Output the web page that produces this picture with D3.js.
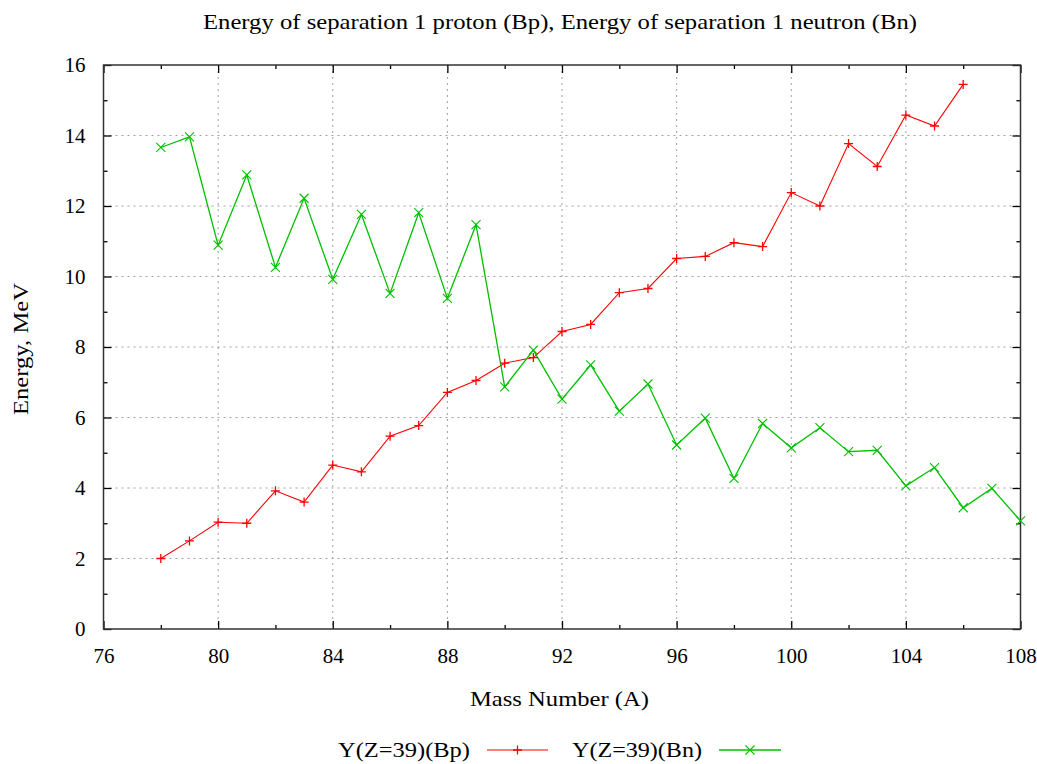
<!DOCTYPE html>
<html><head><meta charset="utf-8">
<script src="https://cdn.jsdelivr.net/npm/d3@7"></script>
<style>body{margin:0;background:#fff}svg{display:block}text{font-family:"Liberation Serif","DejaVu Serif",serif;fill:#000}</style>
</head><body>
<svg id="c" width="1037" height="764"></svg>
<script>
const massBp = [78,79,80,81,82,83,84,85,86,87,88,89,90,91,92,93,94,95,96,97,98,99,100,101,102,103,104,105,106];
const energyBp = [2.0,2.5,3.03,3.0,3.92,3.6,4.65,4.46,5.47,5.77,6.71,7.05,7.54,7.7,8.44,8.64,9.54,9.66,10.51,10.57,10.96,10.85,12.38,12.0,13.77,13.12,14.58,14.27,15.45];
const massBn = [78,79,80,81,82,83,84,85,86,87,88,89,90,91,92,93,94,95,96,97,98,99,100,101,102,103,104,105,106,107,108];
const energyBn = [13.66,13.96,10.89,12.88,10.26,12.22,9.92,11.76,9.52,11.81,9.38,11.47,6.87,7.91,6.52,7.49,6.18,6.95,5.22,5.98,4.27,5.83,5.14,5.71,5.03,5.07,4.06,4.58,3.44,3.99,3.07];
const xTicks = [76,80,84,88,92,96,100,104,108];
const xMinor = [78,82,86,90,94,98,102,106];
const yTicks = [0,2,4,6,8,10,12,14,16];
const yMinor = [1,3,5,7,9,11,13,15];
const titleText = "Energy of separation 1 proton (Bp), Energy of separation 1 neutron (Bn)";
const xLabel = "Mass Number (A)";
const yLabel = "Energy, MeV";
const seriesNames = ["Y(Z=39)(Bp)","Y(Z=39)(Bn)"];

const FONT = "'Liberation Serif','DejaVu Serif',serif";
const svg = d3.select("#c");
const L=103.5, R=1020.5, T=65, B=629;
const x = d3.scaleLinear().domain([76,108]).range([L,R]);
const y = d3.scaleLinear().domain([0,16]).range([B,T]);

// grid
const g = svg.append("g");
g.selectAll(".gx").data(xTicks.slice(1,-1)).join("line")
 .attr("x1",d=>x(d)).attr("x2",d=>x(d)).attr("y1",T).attr("y2",B)
 .attr("stroke","#a0a0a0").attr("stroke-width",1).attr("stroke-dasharray","2,4");
g.selectAll(".gy").data(yTicks.slice(1,-1)).join("line")
 .attr("y1",d=>y(d)).attr("y2",d=>y(d)).attr("x1",L).attr("x2",R)
 .attr("stroke","#a0a0a0").attr("stroke-width",1).attr("stroke-dasharray","2,4");

// axes with inward ticks
const ax = svg.append("g");
function addAxis(axis, tr){ return ax.append("g").attr("transform",tr).call(axis).attr("font-family",FONT).attr("font-size",21); }
addAxis(d3.axisBottom(x).tickValues(xTicks).tickSize(-8).tickPadding(19).tickFormat(d3.format("d")), `translate(0,${B})`);
addAxis(d3.axisBottom(x).tickValues(xMinor).tickSize(-4).tickFormat(""), `translate(0,${B})`);
addAxis(d3.axisTop(x).tickValues(xTicks).tickSize(-8).tickFormat(""), `translate(0,${T})`);
addAxis(d3.axisTop(x).tickValues(xMinor).tickSize(-4).tickFormat(""), `translate(0,${T})`);
addAxis(d3.axisLeft(y).tickValues(yTicks).tickSize(-8).tickPadding(18).tickFormat(d3.format("d")), `translate(${L},0)`);
addAxis(d3.axisLeft(y).tickValues(yMinor).tickSize(-4).tickFormat(""), `translate(${L},0)`);
addAxis(d3.axisRight(y).tickValues(yTicks).tickSize(-8).tickFormat(""), `translate(${R},0)`);
addAxis(d3.axisRight(y).tickValues(yMinor).tickSize(-4).tickFormat(""), `translate(${R},0)`);
ax.selectAll(".domain").remove();
ax.selectAll("line").attr("stroke","#000").attr("stroke-width",1.3);
ax.selectAll("text").style("font-family",FONT).style("font-size","21px").attr("fill","#000");
svg.append("rect").attr("x",L).attr("y",T).attr("width",R-L).attr("height",B-T).attr("fill","none").attr("stroke","#333").attr("stroke-width",1.5);

// lines
const line = d3.line().x(d=>x(d[0])).y(d=>y(d[1]));
const bp = massBp.map((m,i)=>[m,energyBp[i]]);
const bn = massBn.map((m,i)=>[m,energyBn[i]]);
const red="#ff0000", green="#00c000";
svg.append("path").datum(bp).attr("d",line).attr("fill","none").attr("stroke",red).attr("stroke-width",1.1);
svg.append("path").datum(bn).attr("d",line).attr("fill","none").attr("stroke",green).attr("stroke-width",1.3);

function plus(sel,cx,cy,s,col){sel.append("path").attr("d",`M${cx-s},${cy}H${cx+s}M${cx},${cy-s}V${cy+s}`).attr("stroke",col).attr("stroke-width",1.3).attr("fill","none");}
function cross(sel,cx,cy,s,col){sel.append("path").attr("d",`M${cx-s},${cy-s}L${cx+s},${cy+s}M${cx-s},${cy+s}L${cx+s},${cy-s}`).attr("stroke",col).attr("stroke-width",1.1).attr("fill","none");}
const mk = svg.append("g");
bp.forEach(d=>plus(mk,x(d[0]),y(d[1]),4.5,red));
bn.forEach(d=>cross(mk,x(d[0]),y(d[1]),4.5,green));

// titles
function txt(){ return svg.append("text").style("font-family",FONT).style("font-size","21px"); }
txt().attr("x",203).attr("y",29).attr("textLength",714).attr("lengthAdjust","spacingAndGlyphs").text(titleText);
txt().attr("x",470).attr("y",706).attr("textLength",179).attr("lengthAdjust","spacingAndGlyphs").text(xLabel);
txt().attr("transform","translate(28,415) rotate(-90)").attr("textLength",132).attr("lengthAdjust","spacingAndGlyphs").text(yLabel);

// legend
txt().attr("x",338).attr("y",757).attr("textLength",132).attr("lengthAdjust","spacingAndGlyphs").text(seriesNames[0]);
svg.append("line").attr("x1",487).attr("x2",548).attr("y1",750).attr("y2",750).attr("stroke",red).attr("stroke-width",1.1);
plus(svg,517.5,750,4.5,red);
txt().attr("x",572).attr("y",757).attr("textLength",130).attr("lengthAdjust","spacingAndGlyphs").text(seriesNames[1]);
svg.append("line").attr("x1",719).attr("x2",781).attr("y1",750).attr("y2",750).attr("stroke",green).attr("stroke-width",1.3);
cross(svg,750,750,4.5,green);
</script>
</body></html>
